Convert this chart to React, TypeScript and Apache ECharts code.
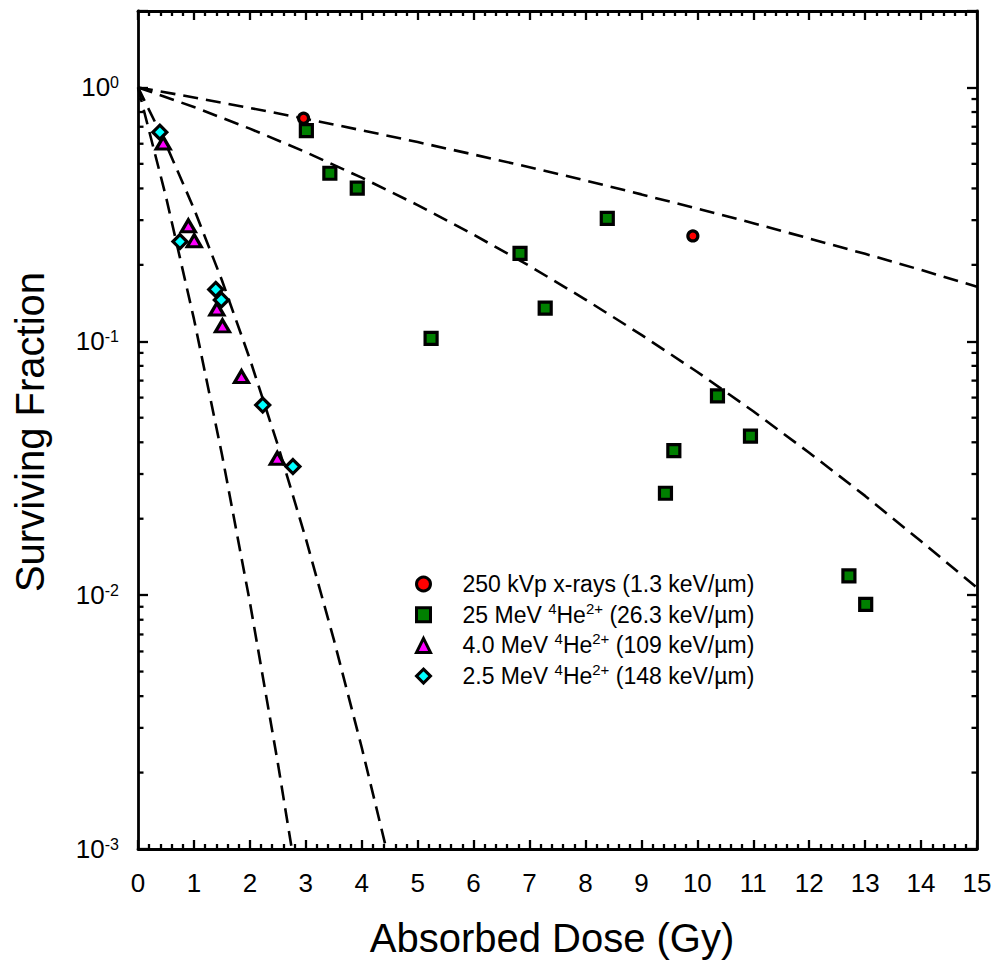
import React, { useEffect, useRef } from 'react';
import * as echarts from 'echarts';

const FONT = '"Liberation Sans", Arial, Helvetica, sans-serif';

// Measured data points
const xrayDose = [2.96, 9.92];
const xraySF = [0.756, 0.26];

const he25Dose = [3.01, 3.43, 3.92, 5.24, 6.83, 7.28, 8.39, 9.43, 9.58, 10.36, 10.95, 12.71, 13.01];
const he25SF = [0.676, 0.459, 0.401, 0.1027, 0.222, 0.135, 0.305, 0.0252, 0.0371, 0.0609, 0.0423, 0.0119, 0.0092];

const he4Dose = [0.45, 0.9, 1.005, 1.41, 1.51, 1.85, 2.49];
const he4SF = [0.604, 0.285, 0.249, 0.134, 0.115, 0.0726, 0.0346];

const he25LowDose = [0.39, 0.75, 1.39, 1.49, 2.23, 2.77];
const he25LowSF = [0.666, 0.247, 0.16, 0.1455, 0.0561, 0.0321];

// Fitted curves
const fitXrayDose = [0, 1, 2, 3, 4, 5, 6, 7, 8, 9, 10, 11, 12, 13, 14, 15];
const fitXraySF = [1, 0.913, 0.83, 0.752, 0.678, 0.609, 0.544, 0.485, 0.43, 0.379, 0.333, 0.292, 0.254, 0.221, 0.191, 0.164];

const fit25Dose = [0, 1, 2, 3, 4, 5, 6, 7, 8, 9, 10, 11, 12, 13, 14, 15];
const fit25SF = [1, 0.837, 0.688, 0.556, 0.441, 0.344, 0.263, 0.198, 0.146, 0.106, 0.0757, 0.053, 0.0364, 0.0246, 0.0163, 0.0107];

const fitSteepADose = [0, 0.5, 1.0, 1.5, 2.0, 2.5, 2.75];
const fitSteepASF = [1, 0.371, 0.1225, 0.0359, 0.00938, 0.00218, 0.001];

const fitSteepBDose = [0, 0.5, 1, 1.5, 2, 2.5, 3, 3.5, 4, 4.44];
const fitSteepBSF = [1, 0.597, 0.333, 0.174, 0.0851, 0.039, 0.0167, 0.0067, 0.00251, 0.001];

// Log-axis minor tick values
const yMinorTicks = [
  0.002, 0.003, 0.004, 0.005, 0.006, 0.007, 0.008, 0.009,
  0.02, 0.03, 0.04, 0.05, 0.06, 0.07, 0.08, 0.09,
  0.2, 0.3, 0.4, 0.5, 0.6, 0.7, 0.8, 0.9,
];

const seriesNames = [
  '250 kVp x-rays (1.3 keV/µm)',
  '25 MeV 4He2+ (26.3 keV/µm)',
  '4.0 MeV 4He2+ (109 keV/µm)',
  '2.5 MeV 4He2+ (148 keV/µm)',
];
const legendLabels: Record<string, string> = {
  [seriesNames[0]]: '{t|250 kVp x-rays (1.3 keV/µm)}',
  [seriesNames[1]]: '{t|25 MeV }{sup|4}{t|He}{sup|2+}{t| (26.3 keV/µm)}',
  [seriesNames[2]]: '{t|4.0 MeV }{sup|4}{t|He}{sup|2+}{t| (109 keV/µm)}',
  [seriesNames[3]]: '{t|2.5 MeV }{sup|4}{t|He}{sup|2+}{t| (148 keV/µm)}',
};

const zip = (xs: number[], ys: number[]) => xs.map((x, i) => [x, ys[i]]);

export default function App() {
  const ref = useRef<HTMLDivElement>(null);
  useEffect(() => {
    if (!ref.current) return;
    const chart = echarts.init(ref.current, undefined, { renderer: 'svg' });
    const X_MIN = 0, X_MAX = 15;
    const dashStyle = { color: '#000', width: 2.6, type: [15, 8] as number[] };
    const fitSeries = (d: number[], s: number[]) => ({
      type: 'line',
      data: zip(d, s),
      showSymbol: false,
      symbol: 'none',
      lineStyle: dashStyle,
      silent: true,
      z: 2,
    });
    const markerBase = { borderColor: '#000', borderWidth: 3.2, opacity: 1 };
    const option: any = {
      animation: false,
      backgroundColor: '#fff',
      grid: { left: 138, right: 18, top: 11, bottom: 112 },
      xAxis: [
        {
          type: 'value', min: X_MIN, max: X_MAX, interval: 1, position: 'bottom',
          axisLine: { show: true, onZero: false, lineStyle: { color: '#000', width: 2.8 } },
          axisTick: { show: true, inside: true, length: 9, lineStyle: { color: '#000', width: 2.3 } },
          minorTick: { show: true, splitNumber: 5, length: 5, lineStyle: { color: '#000', width: 2.3 } },
          axisLabel: { margin: 21, fontSize: 26, fontFamily: FONT, color: '#000' },
          splitLine: { show: false },
        },
        {
          type: 'value', min: X_MIN, max: X_MAX, interval: 1, position: 'top',
          axisLine: { show: true, onZero: false, lineStyle: { color: '#000', width: 2.8 } },
          axisTick: { show: true, inside: true, length: 9, lineStyle: { color: '#000', width: 2.3 } },
          minorTick: { show: true, splitNumber: 5, length: 5, lineStyle: { color: '#000', width: 2.3 } },
          axisLabel: { show: false },
          splitLine: { show: false },
        },
      ],
      yAxis: [
        {
          type: 'log', logBase: 10, min: 0.001, max: 2, position: 'left',
          axisLine: { show: true, onZero: false, lineStyle: { color: '#000', width: 2.8 } },
          axisTick: { show: true, inside: true, length: 10, lineStyle: { color: '#000', width: 2.3 } },
          axisLabel: {
            margin: 19,
            color: '#000',
            formatter: (v: number) => {
              const e = Math.log10(v);
              const r = Math.round(e);
              if (Math.abs(e - r) > 1e-6) return '';
              return `{a|10}{b|${r}}`;
            },
            rich: {
              a: { fontSize: 26, lineHeight: 26, fontFamily: FONT, color: '#000' },
              b: { fontSize: 16, lineHeight: 18, verticalAlign: 'top', fontFamily: FONT, color: '#000' },
            },
          },
          splitLine: { show: false },
        },
        {
          type: 'log', logBase: 10, min: 0.001, max: 2, position: 'right',
          axisLine: { show: true, onZero: false, lineStyle: { color: '#000', width: 2.8 } },
          axisTick: { show: true, inside: true, length: 10, lineStyle: { color: '#000', width: 2.3 } },
          axisLabel: { show: false },
          splitLine: { show: false },
        },
      ],
      legend: {
        orient: 'vertical',
        left: 415,
        top: 570,
        padding: 0,
        itemWidth: 14,
        itemHeight: 14,
        itemGap: 2.7,
        selectedMode: false,
        data: seriesNames,
        formatter: (n: string) => legendLabels[n] ?? n,
        itemStyle: { borderColor: '#000', borderWidth: 3, opacity: 1 },
        textStyle: {
          fontFamily: FONT,
          fontSize: 23,
          color: '#000',
          lineHeight: 28,
          padding: [0, 0, 0, 27],
          rich: {
            t: { fontSize: 23, lineHeight: 28, verticalAlign: 'middle', fontFamily: FONT, color: '#000' },
            sup: { fontSize: 15, lineHeight: 14, verticalAlign: 'top', fontFamily: FONT, color: '#000' },
          },
        },
      },
      graphic: [
        {
          type: 'text', x: 552, y: 937.5,
          style: { text: 'Absorbed Dose (Gy)', fontSize: 40, fontFamily: FONT, fill: '#000', align: 'center', verticalAlign: 'middle' },
        },
        {
          type: 'text', x: 29.5, y: 432, rotation: Math.PI / 2,
          style: { text: 'Surviving Fraction', fontSize: 40, fontFamily: FONT, fill: '#000', align: 'center', verticalAlign: 'middle' },
        },
      ],
      series: [
        fitSeries(fitXrayDose, fitXraySF),
        fitSeries(fit25Dose, fit25SF),
        fitSeries(fitSteepADose, fitSteepASF),
        fitSeries(fitSteepBDose, fitSteepBSF),
        {
          type: 'custom',
          silent: true,
          data: yMinorTicks.map((v) => [X_MIN, v]),
          renderItem: (_p: any, api: any) => {
            const v = api.value(1);
            const pl = api.coord([X_MIN, v]);
            const pr = api.coord([X_MAX, v]);
            const st = { stroke: '#000', lineWidth: 2.3 };
            return {
              type: 'group',
              children: [
                { type: 'line', shape: { x1: pl[0], y1: pl[1], x2: pl[0] + 5.5, y2: pl[1] }, style: st },
                { type: 'line', shape: { x1: pr[0], y1: pr[1], x2: pr[0] - 5.5, y2: pr[1] }, style: st },
              ],
            };
          },
          z: 1,
        },
        {
          name: seriesNames[0], type: 'scatter', symbol: 'circle', symbolSize: 10,
          itemStyle: { color: '#ff0000', ...markerBase }, data: zip(xrayDose, xraySF), z: 5,
        },
        {
          name: seriesNames[1], type: 'scatter', symbol: 'rect', symbolSize: 12,
          itemStyle: { color: '#008000', ...markerBase }, data: zip(he25Dose, he25SF), z: 5,
        },
        {
          name: seriesNames[2], type: 'scatter', symbol: 'triangle', symbolSize: [14, 12],
          itemStyle: { color: '#ff00ff', ...markerBase }, data: zip(he4Dose, he4SF), z: 5,
        },
        {
          name: seriesNames[3], type: 'scatter', symbol: 'diamond', symbolSize: 14,
          itemStyle: { color: '#00ffff', ...markerBase }, data: zip(he25LowDose, he25LowSF), z: 6,
        },
      ],
    };
    chart.setOption(option);
    return () => chart.dispose();
  }, []);
  return (
    <div
      ref={ref}
      style={{ position: 'fixed', left: 0, top: 0, width: 995, height: 961, background: '#fff' }}
    />
  );
}
